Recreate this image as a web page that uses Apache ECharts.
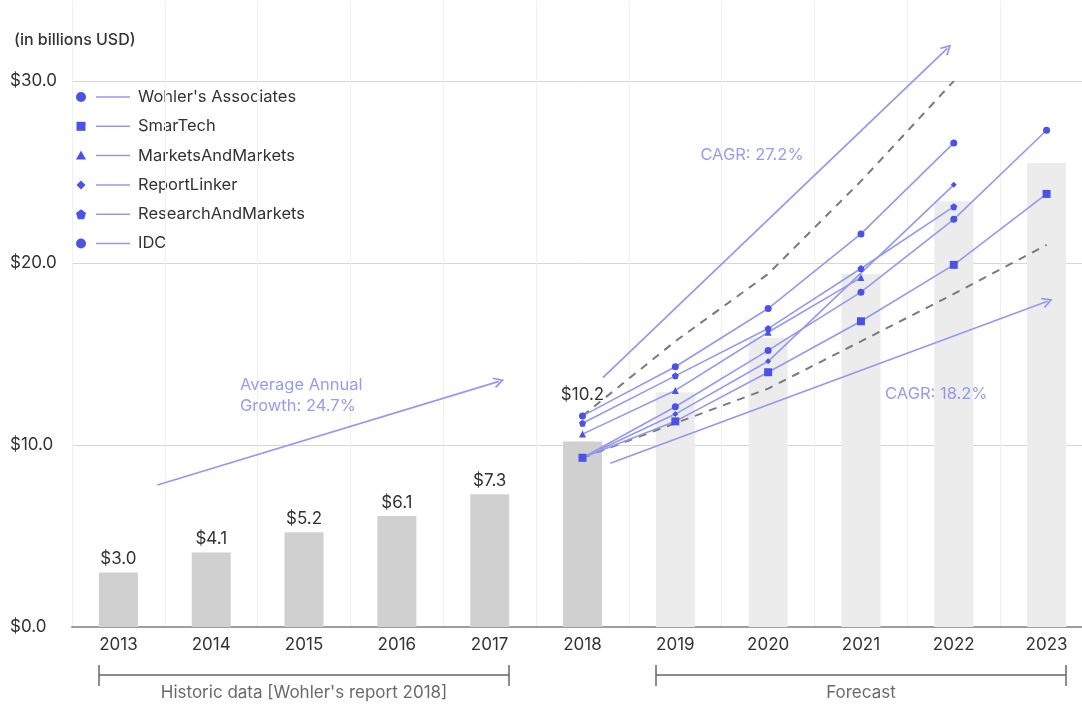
<!DOCTYPE html>
<html><head><meta charset="utf-8">
<script src="https://cdn.jsdelivr.net/npm/echarts@6/dist/echarts.min.js"></script>
<style>html,body{margin:0;padding:0;background:#fff}#c{width:1082px;height:704px}</style>
</head><body><div id="c"></div>
<script>
// ---------- data ----------
const years = ['2013','2014','2015','2016','2017','2018','2019','2020','2021','2022','2023'];
const historicValues = [3.0, 4.1, 5.2, 6.1, 7.3, 10.2, null, null, null, null, null];
const forecastBarValues = [null, null, null, null, null, null, 12.9, 15.9, 19.4, 23.4, 25.5];
const yTicks = [0, 10, 20, 30];
const sourceNames = ["Wohler's Associates", 'SmarTech', 'MarketsAndMarkets', 'ReportLinker', 'ResearchAndMarkets', 'IDC'];
const wohlers            = [null, null, null, null, null, 11.6, 14.3, 17.5, 21.6, 26.6, null];
const smartech           = [null, null, null, null, null, 9.3, 11.3, 14.0, 16.8, 19.9, 23.8];
const marketsAndMarkets  = [null, null, null, null, null, 10.6, 13.0, 16.2, 19.2, null, null];
const reportLinker       = [null, null, null, null, null, 9.3, 11.7, 14.6, null, 24.3, null];
const researchAndMarkets = [null, null, null, null, null, 11.2, 13.8, 16.4, 19.7, 23.1, null];
const idc                = [null, null, null, null, null, 9.3, 12.1, 15.2, 18.4, 22.4, 27.3];
const cagrHighPath = [null, null, null, null, null, 11.6, 15.7, 19.4, 24.5, 30.0, null];
const cagrLowPath  = [null, null, null, null, null, 9.3, 11.2, 13.1, 15.7, 18.3, 21.0];
// annotation arrows (x in category-index units, y in billions USD)
const growthArrow   = [[0.42, 7.8], [4.10, 13.5]];
const cagrHighArrow = [[5.22, 13.7], [8.93, 31.8]];
const cagrLowArrow  = [[5.30, 9.0], [10.01, 17.9]];
const annotationTexts = [
  {text: 'Average Annual\nGrowth: 24.7%', at: [1.31, 12.72]},
  {text: 'CAGR: 27.2%', at: [6.27, 25.93]},
  {text: 'CAGR: 18.2%', at: [8.26, 12.80]}
];
const periodLabels = [
  {text: "Historic data [Wohler's report 2018]", from: 0, to: 4},
  {text: 'Forecast', from: 6, to: 10}
];

// ---------- styles ----------
const FONT = 'Inter, "Noto Sans", sans-serif';
const FS = 17;
const MARK = '#4a52e8';
const LINE = '#9499ee';
const NOTE = '#7c83e8';
const pentagon = 'path://M5,0 L10,3.8 L8.1,10 L1.9,10 L0,3.8 Z';
const chevron = 'path://M5,0 L10,8.2 L8.7,9 L5,2.9 L1.3,9 L0,8.2 Z';
const seriesData = [wohlers, smartech, marketsAndMarkets, reportLinker, researchAndMarkets, idc];
const symbols = ['circle', 'rect', 'triangle', 'diamond', pentagon, 'circle'];
const symbolSizes = [7, 8, 7, 6, 7, 7];

const barData = years.map((y, i) => {
  if (historicValues[i] != null) {
    return {value: historicValues[i], itemStyle: {color: '#d0d0d0'},
      label: {show: true, distance: i === 5 ? 38 : 5}};
  }
  return {value: forecastBarValues[i], itemStyle: {color: '#ececec'}, label: {show: false}};
});

const series = [];
series.push({
  type: 'bar', data: barData, barWidth: 39, z: 1,
  label: {position: 'top', formatter: p => '$' + p.value.toFixed(1), color: '#333', fontSize: FS, fontFamily: FONT}
});
[cagrHighPath, cagrLowPath].forEach(d => series.push({
  type: 'line', data: d, symbol: 'none', z: 3, clip: false,
  lineStyle: {color: '#7a7a7a', width: 2, type: [8, 7]}
}));
seriesData.forEach((d, k) => series.push({
  type: 'line', name: sourceNames[k], data: d, connectNulls: true, z: 4,
  symbol: symbols[k], symbolSize: symbolSizes[k], showSymbol: true, showAllSymbol: true,
  itemStyle: {color: MARK}, lineStyle: {color: LINE, width: 1.6}
}));
series.push({
  type: 'lines', coordinateSystem: 'cartesian2d', xAxisIndex: 1, yAxisIndex: 0, clip: false, z: 4,
  symbol: ['none', chevron], symbolSize: [0, 11],
  lineStyle: {color: LINE, width: 1.7, opacity: 1, curveness: 0},
  data: [growthArrow, cagrHighArrow, cagrLowArrow].map(a => ({coords: a}))
});
// period brackets below the axis
const bY = -2.64, bT = -2.09, bB = -3.24, half = 0.21;
const bracketSegs = [];
periodLabels.forEach(p => {
  const a = p.from - half, b = p.to + half;
  bracketSegs.push({coords: [[a, bY], [b, bY]]});
  bracketSegs.push({coords: [[a, bT], [a, bB]]});
  bracketSegs.push({coords: [[b, bT], [b, bB]]});
});
series.push({
  type: 'lines', coordinateSystem: 'cartesian2d', xAxisIndex: 1, yAxisIndex: 0, clip: false,
  symbol: 'none', lineStyle: {color: '#666', width: 1.5, opacity: 1}, data: bracketSegs
});
series.push({
  type: 'scatter', xAxisIndex: 1, yAxisIndex: 0, clip: false, symbolSize: 0, z: 5,
  data: annotationTexts.map(a => ({value: a.at, name: a.text})),
  label: {show: true, position: 'right', distance: 0, formatter: p => p.name, color: NOTE,
    fontSize: 16.5, lineHeight: 21, fontFamily: FONT, align: 'left'}
});
series.push({
  type: 'scatter', xAxisIndex: 1, yAxisIndex: 0, clip: false, symbolSize: 0, z: 5,
  data: periodLabels.map(p => ({value: [(p.from + p.to) / 2, -3.63], name: p.text})),
  label: {show: true, position: 'inside', formatter: p => p.name, color: '#444', fontSize: FS, fontFamily: FONT}
});

// legend drawn as graphic (marker, line, text)
const legendGraphics = [];
sourceNames.forEach((name, i) => {
  const cy = 97 + i * 29.3, cx = 81;
  let shape;
  const st = {fill: MARK};
  if (i === 1) shape = {type: 'rect', shape: {x: cx - 4.5, y: cy - 4.5, width: 9, height: 9}, style: st};
  else if (i === 2) shape = {type: 'polygon', shape: {points: [[cx, cy - 5], [cx + 5, cy + 4], [cx - 5, cy + 4]]}, style: st};
  else if (i === 3) shape = {type: 'polygon', shape: {points: [[cx, cy - 4.5], [cx + 4.5, cy], [cx, cy + 4.5], [cx - 4.5, cy]]}, style: st};
  else if (i === 4) shape = {type: 'polygon', shape: {points: [[cx, cy - 5], [cx + 5, cy - 1.2], [cx + 3.1, cy + 5], [cx - 3.1, cy + 5], [cx - 5, cy - 1.2]]}, style: st};
  else shape = {type: 'circle', shape: {cx: cx, cy: cy, r: 5}, style: st};
  legendGraphics.push(shape);
  legendGraphics.push({type: 'line', shape: {x1: 96, y1: cy, x2: 130, y2: cy}, style: {stroke: LINE, lineWidth: 1.5}});
  legendGraphics.push({type: 'text', x: 138, y: cy, style: {text: name, fill: '#333', font: '16.5px ' + FONT, verticalAlign: 'middle'}});
});

const chart = echarts.init(document.getElementById('c'), null, {renderer: 'canvas'});
chart.setOption({
  animation: false,
  backgroundColor: '#fff',
  title: {text: '(in billions USD)', left: 9, top: 27, textStyle: {fontSize: 16, fontWeight: 500, color: '#333', fontFamily: FONT}},
  grid: {left: 72, width: 1021, top: 1, height: 626, containLabel: false, outerBoundsMode: 'none'},
  xAxis: [{
    type: 'category', data: years, boundaryGap: true,
    axisLine: {lineStyle: {color: '#9e9e9e', width: 2}}, axisTick: {show: false},
    axisLabel: {color: '#333', fontSize: FS, margin: 9, fontFamily: FONT, interval: 0},
    splitLine: {show: true, interval: 0, lineStyle: {color: '#f0f0f0', width: 1}}
  }, {
    type: 'value', min: -0.5, max: 10.5, show: false
  }],
  yAxis: {
    type: 'value', min: yTicks[0], max: 34.4, interval: 10,
    axisLine: {show: false}, axisTick: {show: false},
    axisLabel: {color: '#333', fontSize: FS, align: 'left', margin: 62, fontFamily: FONT, showMaxLabel: false,
      formatter: v => yTicks.indexOf(v) >= 0 ? '$' + v.toFixed(1) : ''},
    splitLine: {lineStyle: {color: '#d6d6d6', width: 1}, showMaxLine: false}
  },
  graphic: legendGraphics,
  series: series
});
</script></body></html>
